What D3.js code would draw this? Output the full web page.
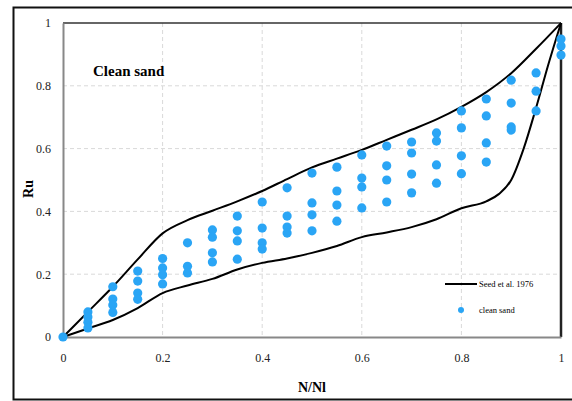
<!DOCTYPE html>
<html><head><meta charset="utf-8">
<script src="https://cdn.jsdelivr.net/npm/d3@7"></script>
<style>body{margin:0;background:#fff;}</style>
</head><body><svg id="c" width="572" height="401"></svg>
<script>
const xTicks = [0, 0.2, 0.4, 0.6, 0.8, 1];
const yTicks = [0, 0.2, 0.4, 0.6, 0.8, 1];
const upperX = [0,0.05,0.1,0.15,0.2,0.25,0.3,0.35,0.4,0.45,0.5,0.55,0.6,0.65,0.7,0.75,0.8,0.85,0.9,0.95,1];
const upperY = [0,0.08,0.16,0.247,0.33,0.372,0.402,0.432,0.465,0.503,0.54,0.568,0.596,0.628,0.66,0.693,0.733,0.78,0.84,0.918,1];
const lowerX = [0,0.05,0.1,0.15,0.2,0.25,0.3,0.35,0.4,0.45,0.5,0.55,0.6,0.65,0.7,0.75,0.8,0.85,0.875,0.9,0.925,0.95,0.975,1];
const lowerY = [0,0.027,0.054,0.092,0.14,0.164,0.185,0.215,0.236,0.25,0.268,0.29,0.318,0.333,0.35,0.375,0.41,0.432,0.455,0.5,0.6,0.73,0.87,1];
const sandX = [0,
 0.05,0.05,0.05,0.05,
 0.1,0.1,0.1,0.1,
 0.15,0.15,0.15,0.15,
 0.2,0.2,0.2,0.2,
 0.25,0.25,0.25,
 0.3,0.3,0.3,0.3,
 0.35,0.35,0.35,0.35,
 0.4,0.4,0.4,0.4,
 0.45,0.45,0.45,0.45,
 0.5,0.5,0.5,0.5,
 0.55,0.55,0.55,0.55,
 0.6,0.6,0.6,0.6,
 0.65,0.65,0.65,0.65,
 0.7,0.7,0.7,0.7,
 0.75,0.75,0.75,0.75,
 0.8,0.8,0.8,0.8,
 0.85,0.85,0.85,0.85,
 0.9,0.9,0.9,0.9,
 0.95,0.95,0.95,
 1,1,1];
const sandY = [0,
 0.08,0.064,0.047,0.029,
 0.16,0.121,0.102,0.078,
 0.21,0.178,0.14,0.12,
 0.25,0.22,0.198,0.169,
 0.3,0.225,0.204,
 0.341,0.318,0.268,0.239,
 0.385,0.338,0.306,0.248,
 0.43,0.347,0.3,0.28,
 0.475,0.385,0.35,0.331,
 0.522,0.427,0.389,0.338,
 0.541,0.465,0.42,0.369,
 0.58,0.506,0.478,0.411,
 0.608,0.545,0.5,0.43,
 0.621,0.586,0.519,0.459,
 0.65,0.624,0.548,0.49,
 0.72,0.666,0.577,0.52,
 0.758,0.704,0.618,0.557,
 0.818,0.745,0.669,0.659,
 0.841,0.783,0.72,
 0.949,0.927,0.898];

const FONT = "Liberation Serif, DejaVu Serif, serif";
const svg = d3.select("#c");
const L = 63, R = 561, T = 23, B = 337;
const x = d3.scaleLinear().domain([0,1]).range([L,R]);
const y = d3.scaleLinear().domain([0,1]).range([B,T]);

svg.append("rect").attr("x",13.5).attr("y",7.5).attr("width",570).attr("height",392)
  .attr("fill","none").attr("stroke","#111").attr("stroke-width",2);

const g = svg.append("g");
g.selectAll(".gx").data(xTicks.filter(d=>d>0&&d<1)).enter().append("line")
  .attr("x1",d=>x(d)).attr("x2",d=>x(d)).attr("y1",T).attr("y2",B)
  .attr("stroke","#d9d9d9").attr("stroke-dasharray","4,3");
g.selectAll(".gy").data(yTicks.filter(d=>d>0&&d<1)).enter().append("line")
  .attr("y1",d=>y(d)).attr("y2",d=>y(d)).attr("x1",L).attr("x2",R)
  .attr("stroke","#d9d9d9").attr("stroke-dasharray","4,3");

svg.append("line").attr("x1",L).attr("x2",R).attr("y1",T).attr("y2",T).attr("stroke","#333").attr("stroke-width",1.5);
svg.append("line").attr("x1",R).attr("x2",R).attr("y1",T).attr("y2",B).attr("stroke","#222").attr("stroke-width",2.5);

const xAxis = d3.axisBottom(x).tickValues(xTicks).tickFormat(d3.format("")).tickSize(0).tickPadding(16);
const yAxis = d3.axisLeft(y).tickValues(yTicks).tickFormat(d3.format("")).tickSize(0).tickPadding(12);
const gx = svg.append("g").attr("transform",`translate(0,${B})`).call(xAxis);
const gy = svg.append("g").attr("transform",`translate(${L},0)`).call(yAxis);
[gx,gy].forEach(a=>{
  a.attr("font-family",FONT).attr("font-size",12);
  a.select(".domain").attr("stroke","#888").attr("stroke-width",2);
  a.selectAll("text").attr("font-family",FONT).attr("font-size",12).attr("fill","#222");
});

const line = d3.line().x(d=>x(d[0])).y(d=>y(d[1])).curve(d3.curveMonotoneX);
svg.append("path").datum(upperX.map((v,i)=>[v,upperY[i]])).attr("d",line)
  .attr("fill","none").attr("stroke","#000").attr("stroke-width",2);
svg.append("path").datum(lowerX.map((v,i)=>[v,lowerY[i]])).attr("d",line)
  .attr("fill","none").attr("stroke","#000").attr("stroke-width",2);

svg.append("g").selectAll("circle").data(sandX.map((v,i)=>[v,sandY[i]])).enter().append("circle")
  .attr("cx",d=>x(d[0])).attr("cy",d=>y(d[1])).attr("r",4.6).attr("fill","#2aa5f5");

const t = (sel)=>sel.attr("font-family",FONT).attr("fill","#000");
t(svg.append("text").attr("x",93).attr("y",76).attr("font-size",15).attr("font-weight","bold").text("Clean sand"));
t(svg.append("text").attr("transform","translate(33,189) rotate(-90)").attr("text-anchor","middle")
  .attr("font-size",14).attr("font-weight","bold").text("Ru"));
t(svg.append("text").attr("x",312).attr("y",392).attr("text-anchor","middle")
  .attr("font-size",14).attr("font-weight","bold").text("N/Nl"));

svg.append("line").attr("x1",445).attr("x2",477).attr("y1",284).attr("y2",284).attr("stroke","#000").attr("stroke-width",2);
t(svg.append("text").attr("x",479).attr("y",287).attr("font-size",8.5).text("Seed et al. 1976"));
svg.append("circle").attr("cx",461).attr("cy",310).attr("r",3).attr("fill","#2aa5f5");
t(svg.append("text").attr("x",479).attr("y",313).attr("font-size",8.5).text("clean sand"));
</script></body></html>
